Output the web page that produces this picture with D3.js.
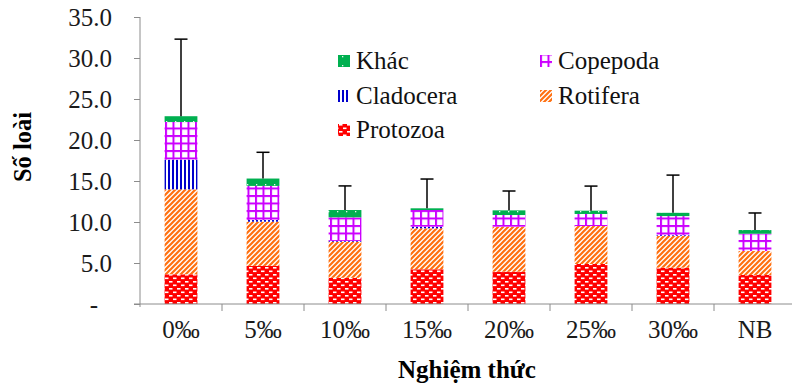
<!DOCTYPE html>
<html>
<head>
<meta charset="utf-8">
<script src="https://cdn.jsdelivr.net/npm/d3@7"></script>
<style>
  body { margin: 0; background: #fff; }
</style>
</head>
<body>
<div id="chart"></div>
<script>
// categories and series
var categories = ["0‰", "5‰", "10‰", "15‰", "20‰", "25‰", "30‰", "NB"];
var protozoa  = [3.62, 4.65, 3.20, 4.23, 3.94, 4.88, 4.43, 3.54];
var rotifera  = [10.36, 5.39, 4.40, 5.00, 5.49, 4.63, 3.86, 2.92];
var cladocera = [3.62, 0.20, 0.10, 0.20, 0.00, 0.00, 0.10, 0.00];
var copepoda  = [4.60, 4.16, 2.87, 2.03, 1.42, 1.47, 2.33, 2.11];
var khac      = [0.70, 0.90, 0.89, 0.21, 0.57, 0.40, 0.40, 0.45];
var errUp     = [9.40, 3.20, 2.94, 3.57, 2.36, 3.00, 4.60, 2.08];
var yTicks    = [0, 5, 10, 15, 20, 25, 30, 35];

var seriesNames = ["Protozoa", "Rotifera", "Cladocera", "Copepoda", "Khác"];
var seriesVals = [protozoa, rotifera, cladocera, copepoda, khac];

var FONT = "Liberation Serif";
var FS = 25;
var w = 792, h = 385;
var svg = d3.select("#chart").append("svg")
  .attr("width", w).attr("height", h);

// patterns
var defs = svg.append("defs");
function pat(id, pw, ph) {
  return defs.append("pattern").attr("id", id)
    .attr("patternUnits", "userSpaceOnUse")
    .attr("width", pw).attr("height", ph);
}
// protozoa: red with white brick dashes
var p1 = pat("p-proto", 8, 7);
p1.append("rect").attr("width", 8).attr("height", 7).attr("fill", "#ff0000");
p1.append("rect").attr("x", 1).attr("y", 1).attr("width", 3.5).attr("height", 1.6).attr("fill", "#fff");
p1.append("rect").attr("x", 5).attr("y", 4.5).attr("width", 3.5).attr("height", 1.6).attr("fill", "#fff");
p1.append("rect").attr("x", -3).attr("y", 4.5).attr("width", 3.5).attr("height", 1.6).attr("fill", "#fff");
// rotifera: orange diagonal stripes
var p2 = pat("p-roti", 5, 5);
p2.append("rect").attr("width", 5).attr("height", 5).attr("fill", "#fff");
p2.append("path").attr("d", "M-1,6 L6,-1 M-1,1 L1,-1 M4,6 L6,4")
  .attr("stroke", "#ff7010").attr("stroke-width", 2.2);
// cladocera: blue vertical lines
var p3 = pat("p-clad", 4, 4);
p3.append("rect").attr("width", 4).attr("height", 4).attr("fill", "#fff");
p3.append("rect").attr("x", 0).attr("width", 2).attr("height", 4).attr("fill", "#0000cc");
// copepoda: magenta grid
var p4 = pat("p-cope", 7.5, 7.5);
p4.append("rect").attr("width", 7.5).attr("height", 7.5).attr("fill", "#fff");
p4.append("rect").attr("width", 7.5).attr("height", 2).attr("fill", "#cc00ff");
p4.append("rect").attr("width", 2).attr("height", 7.5).attr("fill", "#cc00ff");
// khac: green with small white dots
var p5 = pat("p-khac", 9, 9);
p5.append("rect").attr("width", 9).attr("height", 9).attr("fill", "#00b050");
p5.append("rect").attr("x", 4).attr("y", 4).attr("width", 1.3).attr("height", 1.3).attr("fill", "#e8f8ee");

var fills = ["url(#p-proto)", "url(#p-roti)", "url(#p-clad)", "url(#p-cope)", "url(#p-khac)"];

var x = d3.scaleBand().domain(categories).range([140, 140 + 8 * 82]).padding(0);
var y = d3.scaleLinear().domain([0, 35]).range([304, 17]);
var barW = x.bandwidth() * 0.4;

// stacked data
var rows = categories.map(function (c, i) {
  var r = { cat: c };
  seriesNames.forEach(function (s, j) { r[s] = seriesVals[j][i]; });
  return r;
});
var stacked = d3.stack().keys(seriesNames)(rows);

svg.append("g").selectAll("g")
  .data(stacked).enter().append("g")
  .attr("fill", function (d, i) { return fills[i]; })
  .selectAll("rect")
  .data(function (d) { return d; })
  .enter().append("rect")
  .attr("x", function (d) { return x(d.data.cat) + x.bandwidth() / 2 - barW / 2; })
  .attr("width", barW)
  .attr("y", function (d) { return y(d[1]); })
  .attr("height", function (d) { return y(d[0]) - y(d[1]); });

// error bars
var tops = stacked[stacked.length - 1];
var eb = svg.append("g").attr("stroke", "#000").attr("stroke-width", 1.5);
tops.forEach(function (d, i) {
  var cx = x(d.data.cat) + x.bandwidth() / 2;
  eb.append("line").attr("x1", cx).attr("x2", cx)
    .attr("y1", y(d[1])).attr("y2", y(d[1] + errUp[i]));
  eb.append("line").attr("x1", cx - 6.5).attr("x2", cx + 6.5)
    .attr("y1", y(d[1] + errUp[i])).attr("y2", y(d[1] + errUp[i]));
});

// axes
var axisColor = "#8c8c8c";
var yAxis = svg.append("g").attr("transform", "translate(140,0)")
  .call(d3.axisLeft(y).tickValues(yTicks).tickSize(6).tickPadding(22)
    .tickFormat(function (d) { return d === 0 ? "-" : d3.format(".1f")(d); }));
yAxis.attr("font-family", null).attr("font-size", null);
yAxis.select(".domain").attr("stroke", axisColor).attr("d", "M0,17V307");
yAxis.selectAll(".tick line").attr("stroke", axisColor);
yAxis.selectAll(".tick text")
  .attr("font-family", FONT).attr("font-size", FS).attr("fill", "#1a1a1a")
  .attr("dx", function (d) { return d === 0 ? -14 : 0; });

var xAxis = svg.append("g").attr("transform", "translate(0,304)");
xAxis.append("line").attr("x1", 134).attr("x2", w).attr("y1", 0).attr("y2", 0)
  .attr("stroke", axisColor);
xAxis.selectAll(".xt").data(categories.slice(1)).enter().append("line")
  .attr("x1", function (d) { return x(d); }).attr("x2", function (d) { return x(d); })
  .attr("y1", 0).attr("y2", 7).attr("stroke", axisColor);
xAxis.selectAll(".xl").data(categories).enter().append("text")
  .attr("x", function (d) { return x(d) + x.bandwidth() / 2; })
  .attr("y", 34).attr("text-anchor", "middle")
  .attr("font-family", FONT).attr("font-size", FS).attr("fill", "#1a1a1a")
  .text(function (d) { return d; });

// axis titles
svg.append("text").attr("x", 467).attr("y", 378)
  .attr("text-anchor", "middle").attr("font-family", FONT)
  .attr("font-size", 25).attr("font-weight", "bold")
  .text("Nghiệm thức");
svg.append("text").attr("transform", "translate(31,147) rotate(-90)")
  .attr("text-anchor", "middle").attr("font-family", FONT)
  .attr("font-size", 24.5).attr("font-weight", "bold")
  .text("Số loài");

// legend
var legendItems = [
  { name: "Khác", fill: fills[4], x: 338, y: 61 },
  { name: "Copepoda", fill: fills[3], x: 540, y: 61 },
  { name: "Cladocera", fill: fills[2], x: 338, y: 96 },
  { name: "Rotifera", fill: fills[1], x: 540, y: 96 },
  { name: "Protozoa", fill: fills[0], x: 338, y: 130 }
];
var lg = svg.append("g").selectAll("g").data(legendItems).enter().append("g")
  .attr("transform", function (d) { return "translate(" + d.x + "," + d.y + ")"; });
lg.append("rect").attr("x", 0).attr("y", -6).attr("width", 12).attr("height", 12)
  .attr("fill", function (d) { return d.fill; });
lg.append("text").attr("x", 18).attr("y", 8)
  .attr("font-family", FONT).attr("font-size", FS).attr("fill", "#111")
  .text(function (d) { return d.name; });
</script>
</body>
</html>
